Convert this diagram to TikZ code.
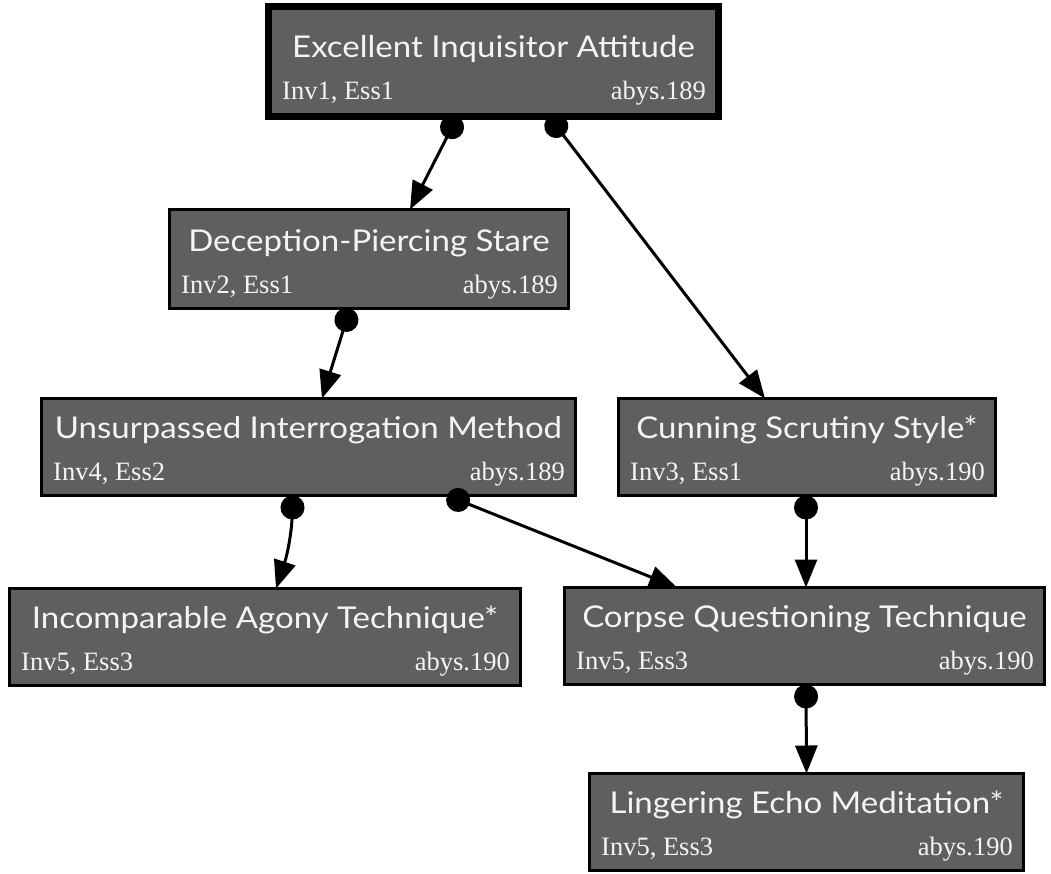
\documentclass[tikz,border=0pt]{standalone}
\usepackage{fontspec}
\setmainfont{Liberation Serif}
\newfontfamily\titlefont[FakeStretch=1.1]{Lato}
\usetikzlibrary{arrows.meta,calc}

\definecolor{boxgray}{HTML}{5E6060}
\definecolor{textwhite}{HTML}{F4F4F4}

\tikzset{
  skill/.style={draw=black, fill=boxgray, inner sep=0pt, outer sep=0pt},
  skilltitle/.style={text=textwhite, font=\titlefont\fontsize{30}{32}\selectfont,
    anchor=base, inner sep=0pt},
  skillsub/.style={text=textwhite, font=\fontsize{26.5}{28}\selectfont, inner sep=0pt},
  link/.style={line width=3pt, draw=black,
    {Circle[length=24pt]}-{Triangle[length=28pt,width=22pt]}},
}

% \skillbox{name}{left}{top}{right}{bottom}{border}{title}{left note}{right note}
% left/top/right/bottom are the outer edges of the frame.
\newcommand\skillbox[9]{%
  \node[skill, line width=#6pt,
        minimum width={(#4-#2-#6)*1pt}, minimum height={(#5-#3-#6)*1pt}]
    (#1) at ({(#2+#4)/2},{(#3+#5)/2}) {};
  \node[skilltitle] (#1-t) at ($(#1.south)+(0,{-#6/2-56})$) {#7};
  \node[skillsub, anchor=base west] (#1-l)
    at ($(#1.south west)+({#6/2+10},{-#6/2-14})$) {#8};
  \node[skillsub, anchor=base east] (#1-r)
    at ($(#1.south east)+({-#6/2-9},{-#6/2-14})$) {#9};
}

\begin{document}
\begin{tikzpicture}[x=1pt,y=-1pt]
  \useasboundingbox (0,0) rectangle (1051,873);

  \skillbox{eia}{265}{3}{722}{120}{7}{Excellent Inquisitor Attitude}{Inv1, Ess1}{abys.189}
  \skillbox{dps}{168}{208}{570}{310}{3}{Deception-Piercing Stare}{Inv2, Ess1}{abys.189}
  \skillbox{uim}{40}{397}{577}{497}{3}{Unsurpassed Interrogation Method}{Inv4, Ess2}{abys.189}
  \skillbox{css}{617}{397}{997}{497}{3}{Cunning Scrutiny Style*}{Inv3, Ess1}{abys.190}
  \skillbox{iat}{8}{587}{522}{687}{3}{Incomparable Agony Technique*}{Inv5, Ess3}{abys.190}
  \skillbox{cqt}{563}{586}{1046}{686}{3}{Corpse Questioning Technique}{Inv5, Ess3}{abys.190}
  \skillbox{lem}{588}{772}{1025}{872}{3}{Lingering Echo Meditation*}{Inv5, Ess3}{abys.190}

  % prerequisite links
  \draw[link] ([xshift=-36]eia.south) -- ([xshift=41]dps.north);
  \draw[link] ([xshift=55.5]eia.south) -- ([xshift=-42]css.north);
  \draw[link] ([xshift=-19]dps.south) -- ([xshift=13.5]uim.north);
  \draw[link] ([xshift=-15.5]uim.south) to[bend left=8] ([xshift=11]iat.north);
  \draw[link] ([xshift=138.5]uim.south) -- ([xshift=-127.5]cqt.north);
  \draw[link] ([xshift=-1]css.south) -- ([xshift=1.5]cqt.north);
  \draw[link] ([xshift=1.5]cqt.south) -- ([xshift=0]lem.north);
\end{tikzpicture}
\end{document}
